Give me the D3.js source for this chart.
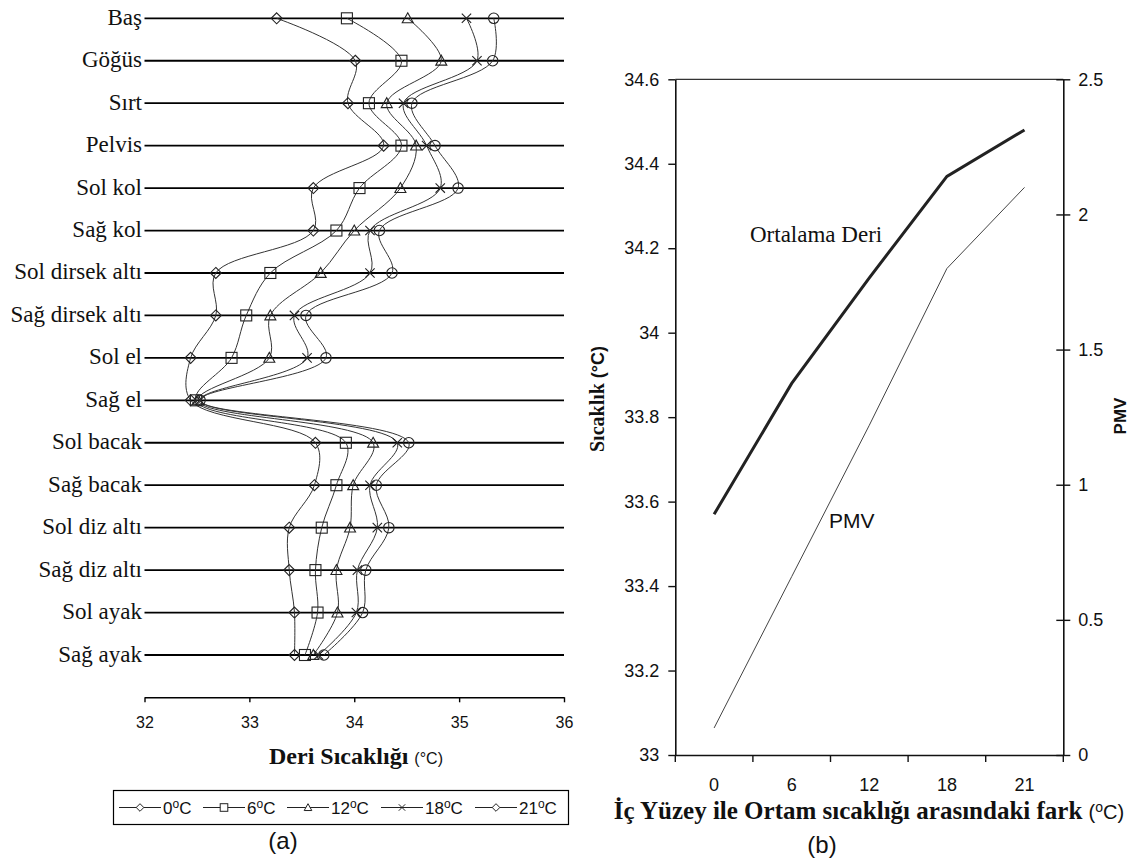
<!DOCTYPE html>
<html><head><meta charset="utf-8">
<script src="https://cdn.jsdelivr.net/npm/d3@7"></script>
<style>body{margin:0;background:#fff}svg{display:block}</style>
</head><body>
<svg id="c" width="1131" height="863"></svg>
<script>
// ---------- data: panel (a) ----------
const parts = ["Baş","Göğüs","Sırt","Pelvis","Sol kol","Sağ kol","Sol dirsek altı","Sağ dirsek altı","Sol el","Sağ el","Sol bacak","Sağ bacak","Sol diz altı","Sağ diz altı","Sol ayak","Sağ ayak"];
const seriesNames = ["0","6","12","18","21"];
const t0  = [33.26,34.01,33.94,34.28,33.61,33.61,32.68,32.68,32.44,32.44,33.63,33.62,33.38,33.38,33.43,33.43];
const t6  = [33.93,34.45,34.14,34.45,34.05,33.83,33.20,32.97,32.83,32.49,33.92,33.83,33.69,33.63,33.65,33.53];
const t12 = [34.51,34.83,34.31,34.59,34.44,34.00,33.68,33.20,33.19,32.51,34.18,33.99,33.96,33.83,33.84,33.61];
const t18 = [35.07,35.17,34.47,34.69,34.82,34.15,34.15,33.43,33.55,32.53,34.41,34.15,34.22,34.03,34.02,33.66];
const t21 = [35.33,35.32,34.55,34.77,34.99,34.24,34.36,33.54,33.73,32.53,34.52,34.21,34.33,34.11,34.08,33.71];
const skinTicks = [32,33,34,35,36];
// ---------- data: panel (b) ----------
const diffs = ["0","6","12","18","21"];
const meanSkin = [33.57,33.88,34.13,34.37,34.48];
const pmv = [0.10,0.66,1.22,1.80,2.10];
const tempTicks = [33,33.2,33.4,33.6,33.8,34,34.2,34.4,34.6];
const pmvTicks = [0,0.5,1,1.5,2,2.5];

const svg = d3.select("#c");
const ink = "#111";
const AR = "Arial, 'Liberation Sans', sans-serif";
const SERIF = "'Times New Roman', 'Liberation Serif', serif";

// ================= panel (a) =================
const xA = d3.scaleLinear().domain([32,36]).range([144.5,564]);
const yA = d3.scalePoint().domain(parts).range([18.3,655]);
const axisYA = 697.3;
const gA = svg.append("g");

gA.selectAll("line.row").data(parts).join("line")
  .attr("x1",xA(32)).attr("x2",xA(36))
  .attr("y1",d=>yA(d)).attr("y2",d=>yA(d))
  .attr("stroke","#000").attr("stroke-width",1.8);
gA.selectAll("text.row").data(parts).join("text")
  .attr("x",142).attr("y",d=>yA(d)+6.5)
  .attr("text-anchor","end").attr("font-family",SERIF).attr("font-size",23).attr("fill",ink)
  .text(d=>d);

const axA = gA.append("g").attr("transform",`translate(0,${axisYA})`)
  .call(d3.axisBottom(xA).tickValues(skinTicks).tickSizeInner(5).tickSizeOuter(0).tickFormat(d3.format("d")));
axA.select(".domain").attr("stroke","#000").attr("stroke-width",1.6);
axA.selectAll(".tick line").attr("stroke","#000").attr("stroke-width",1.4);
axA.selectAll(".tick text").attr("font-family",AR).attr("font-size",16).attr("fill",ink).attr("y",25.5).attr("dy","0.32em");

const lblA = gA.append("text").attr("x",356).attr("y",764).attr("text-anchor","middle").attr("fill",ink);
lblA.append("tspan").attr("font-family",SERIF).attr("font-weight","bold").attr("font-size",24).text("Deri Sıcaklığı ");
lblA.append("tspan").attr("font-family",AR).attr("font-size",16).text("(°C)");

const seriesVals = [t0,t6,t12,t18,t21];
const symbols = ["diamond","square","triangle","x","circle"];
function marker(g, type, x, y, s){
  if(type==="diamond") g.append("path").attr("d",`M${x},${y-s}L${x+s},${y}L${x},${y+s}L${x-s},${y}Z`);
  else if(type==="square") g.append("rect").attr("x",x-s).attr("y",y-s).attr("width",2*s).attr("height",2*s);
  else if(type==="triangle") g.append("path").attr("d",`M${x},${y-s}L${x+s},${y+s*0.8}L${x-s},${y+s*0.8}Z`);
  else if(type==="x") g.append("path").attr("d",`M${x-s*0.85},${y-s*0.85}L${x+s*0.85},${y+s*0.85}M${x-s*0.85},${y+s*0.85}L${x+s*0.85},${y-s*0.85}`);
  else g.append("circle").attr("cx",x).attr("cy",y).attr("r",s*0.95);
}
const lineA = d3.line().x(d=>xA(d.v)).y(d=>yA(d.p)).curve(d3.curveCatmullRom.alpha(0.5));
seriesVals.forEach((vals,si)=>{
  const pts = parts.map((p,i)=>({p, v: vals[i]}));
  gA.append("path").datum(pts).attr("d",lineA)
    .attr("fill","none").attr("stroke","#333").attr("stroke-width",1);
  const mg = gA.append("g").attr("fill","none").attr("stroke","#222").attr("stroke-width",1.1);
  pts.forEach(d=>marker(mg, symbols[si], xA(d.v), yA(d.p), 5.5));
});

// legend
const leg = gA.append("g");
leg.append("rect").attr("x",113.5).attr("y",790.5).attr("width",455).attr("height",34)
  .attr("fill","#fff").attr("stroke","#000").attr("stroke-width",1.2);
const legX = [119,203,287,381,475];
seriesNames.forEach((n,i)=>{
  const x0 = legX[i], yL = 807.5;
  leg.append("line").attr("x1",x0).attr("x2",x0+42).attr("y1",yL).attr("y2",yL).attr("stroke","#222").attr("stroke-width",1);
  const mg = leg.append("g").attr("fill","#fff").attr("stroke","#222").attr("stroke-width",1);
  marker(mg, symbols[i]==="circle"?"diamond":symbols[i], x0+21, yL, 3.8);
  const t = leg.append("text").attr("x",x0+44).attr("y",yL+6).attr("font-family",AR).attr("font-size",17).attr("fill",ink);
  t.append("tspan").text(n);
  t.append("tspan").attr("font-size",12).attr("dy",-6).text("o");
  t.append("tspan").attr("dy",6).text("C");
});
gA.append("text").attr("x",283).attr("y",849).attr("text-anchor","middle")
  .attr("font-family",AR).attr("font-size",24).attr("fill",ink).text("(a)");

// ================= panel (b) =================
const L = 675.3, R = 1063.3, T = 79.3, B = 755;
const xB = d3.scaleBand().domain(diffs).range([L,R]).padding(0);
const yT = d3.scaleLinear().domain([33,34.6]).range([B,T]);
const yP = d3.scaleLinear().domain([0,2.5]).range([B,T]);
const gB = svg.append("g");

gB.append("line").attr("x1",L).attr("x2",R).attr("y1",T).attr("y2",T).attr("stroke","#333").attr("stroke-width",1.2);

const axL = gB.append("g").attr("transform",`translate(${L},0)`)
  .call(d3.axisLeft(yT).tickValues(tempTicks).tickSizeInner(7).tickSizeOuter(0).tickPadding(9).tickFormat(d=>String(+d.toFixed(1))));
axL.select(".domain").attr("stroke","#111").attr("stroke-width",1.6);
axL.selectAll(".tick line").attr("stroke","#111").attr("stroke-width",1.4);
axL.selectAll(".tick text").attr("font-family",AR).attr("font-size",18).attr("fill",ink);

const axR = gB.append("g").attr("transform",`translate(${R},0)`)
  .call(d3.axisRight(yP).tickValues(pmvTicks).tickSizeInner(7).tickSizeOuter(0).tickPadding(8).tickFormat(d=>String(d)));
axR.select(".domain").attr("stroke","#111").attr("stroke-width",1.6);
axR.selectAll(".tick line").attr("x1",-7).attr("stroke","#111").attr("stroke-width",1.4);
axR.selectAll(".tick text").attr("font-family",AR).attr("font-size",18).attr("fill",ink);

const axBt = gB.append("g").attr("transform",`translate(0,${B})`)
  .call(d3.axisBottom(xB).tickSize(0).tickPadding(0));
axBt.select(".domain").attr("stroke","#111").attr("stroke-width",1.6);
axBt.selectAll(".tick text").attr("font-family",AR).attr("font-size",18).attr("fill",ink).attr("y",30).attr("dy","0.32em");
const edges = diffs.map(d=>xB(d)).concat([xB(diffs[diffs.length-1])+xB.bandwidth()]);
gB.selectAll("line.edge").data(edges).join("line")
  .attr("x1",d=>d).attr("x2",d=>d).attr("y1",B).attr("y2",B+7)
  .attr("stroke","#111").attr("stroke-width",1.4);

const cx = d=>xB(d)+xB.bandwidth()/2;
gB.append("path").datum(diffs.map((d,i)=>[cx(d),yT(meanSkin[i])]))
  .attr("d",d3.line()).attr("fill","none").attr("stroke","#222").attr("stroke-width",3);
gB.append("path").datum(diffs.map((d,i)=>[cx(d),yP(pmv[i])]))
  .attr("d",d3.line()).attr("fill","none").attr("stroke","#444").attr("stroke-width",1);

gB.append("text").attr("x",750).attr("y",242).attr("font-family",SERIF).attr("font-size",23).attr("fill",ink).text("Ortalama Deri");
gB.append("text").attr("x",829).attr("y",528).attr("font-family",AR).attr("font-size",21).attr("fill",ink).text("PMV");

const ttl = gB.append("text").attr("x",869).attr("y",819).attr("text-anchor","middle").attr("fill",ink);
ttl.append("tspan").attr("font-family",SERIF).attr("font-weight","bold").attr("font-size",25).text("İç Yüzey ile Ortam sıcaklığı arasındaki fark ");
ttl.append("tspan").attr("font-family",AR).attr("font-size",20).text("(");
ttl.append("tspan").attr("font-family",AR).attr("font-size",14).attr("dy",-7).text("o");
ttl.append("tspan").attr("font-family",AR).attr("font-size",20).attr("dy",7).text("C)");

const yt = gB.append("text").attr("transform","translate(604,399) rotate(-90)").attr("text-anchor","middle").attr("fill",ink);
yt.append("tspan").attr("font-family",SERIF).attr("font-weight","bold").attr("font-size",20).text("Sıcaklık ");
yt.append("tspan").attr("font-family",AR).attr("font-weight","bold").attr("font-size",18).text("(°C)");

gB.append("text").attr("transform","translate(1126,416) rotate(-90)").attr("text-anchor","middle")
  .attr("font-family",AR).attr("font-weight","bold").attr("font-size",17).attr("fill",ink).text("PMV");

gB.append("text").attr("x",822).attr("y",853).attr("text-anchor","middle")
  .attr("font-family",AR).attr("font-size",24).attr("fill",ink).text("(b)");
</script>
</body></html>
